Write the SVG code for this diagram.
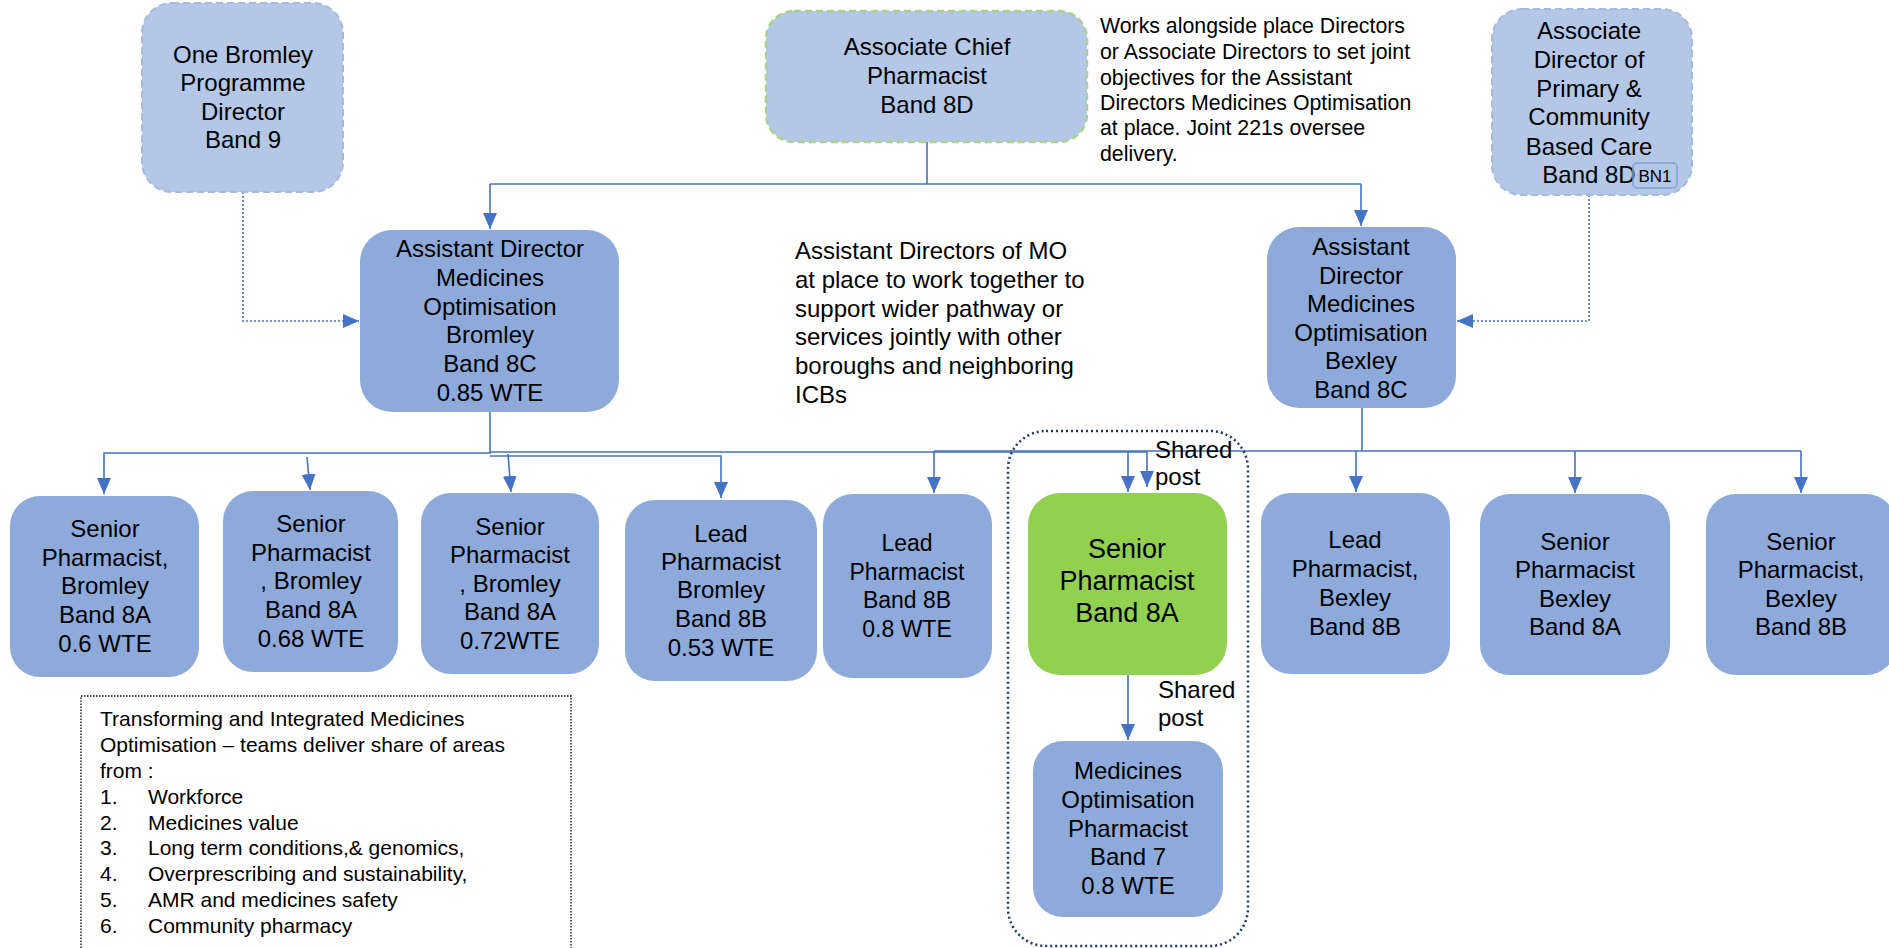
<svg xmlns="http://www.w3.org/2000/svg" width="1889" height="948" viewBox="0 0 1889 948">
<style>
.box{fill:#8eaadb}
.lt{fill:#b4c7e7}
.green{fill:#92d050}
.t{font-family:"Liberation Sans",Arial,sans-serif;font-size:24px;fill:#000;text-anchor:middle}
.s{font-family:"Liberation Sans",Arial,sans-serif;font-size:21px;fill:#000}
.w{font-size:21.3px}
.a{font-family:"Liberation Sans",Arial,sans-serif;font-size:24px;fill:#000}
.c{fill:none;stroke:#4472c4;stroke-width:1.6}
.dot{stroke-dasharray:2 2}
</style>
<defs>
<marker id="ah" markerUnits="userSpaceOnUse" markerWidth="17" markerHeight="15" refX="16" refY="7" orient="auto"><path d="M0,0 L16,7 L0,14 z" fill="#4472c4"/></marker>
</defs>
<rect width="1889" height="948" fill="#ffffff"/>

<g id="connectors">
<path class="c" d="M927,142 V184 M490,184 H1361" />
<path class="c" d="M490,184 V229" marker-end="url(#ah)"/>
<path class="c" d="M1361,184 V226" marker-end="url(#ah)"/>
<path class="c dot" d="M243,192 V321 H359" marker-end="url(#ah)"/>
<path class="c dot" d="M1589,195 V321 H1457" marker-end="url(#ah)"/>
<path class="c" d="M490,412 V453 H104 V494" marker-end="url(#ah)"/>
<path class="c" d="M307,457 L310,490" marker-end="url(#ah)"/>
<path class="c" d="M508,454 L511,492" marker-end="url(#ah)"/>
<path class="c" d="M490,456 H721 V498" marker-end="url(#ah)"/>
<path class="c" d="M490,452 H1147 V487" marker-end="url(#ah)"/>
<path class="c" d="M1362,408 V451 M934,451 H1801"/>
<path class="c" d="M934,451 V493" marker-end="url(#ah)"/>
<path class="c" d="M1128,451 V492" marker-end="url(#ah)"/>
<path class="c" d="M1356,451 V492" marker-end="url(#ah)"/>
<path class="c" d="M1575,451 V493" marker-end="url(#ah)"/>
<path class="c" d="M1801,451 V493" marker-end="url(#ah)"/>
<path class="c" d="M1128,675 V740" marker-end="url(#ah)"/>
</g>

<g id="shared-group">
<rect x="1008" y="431" width="240" height="515" rx="38" fill="none" stroke="#203864" stroke-width="2.5" stroke-dasharray="2 3"/>
</g>

<g id="one-bromley">
<rect x="142" y="3" width="201" height="189" rx="30" class="lt" stroke="#a3b9e2" stroke-width="2" stroke-dasharray="7 4"/>
<text class="t" x="243" y="63">One Bromley</text>
<text class="t" x="243" y="91">Programme</text>
<text class="t" x="243" y="120">Director</text>
<text class="t" x="243" y="148">Band 9</text>
</g>

<g id="associate-chief">
<rect x="766" y="11" width="321" height="131" rx="28" class="lt" stroke="#a9d18e" stroke-width="2.5" stroke-dasharray="7 4"/>
<text class="t" x="927" y="55">Associate Chief</text>
<text class="t" x="927" y="84">Pharmacist</text>
<text class="t" x="927" y="113">Band 8D</text>
</g>

<g id="note-works">
<text class="s w" x="1100" y="33">Works alongside place Directors</text>
<text class="s w" x="1100" y="59">or Associate Directors to set joint</text>
<text class="s w" x="1100" y="85">objectives for the Assistant</text>
<text class="s w" x="1100" y="110">Directors Medicines Optimisation</text>
<text class="s w" x="1100" y="135">at place. Joint 221s oversee</text>
<text class="s w" x="1100" y="161">delivery.</text>
</g>

<g id="associate-director">
<rect x="1492" y="9" width="200" height="186" rx="30" class="lt" stroke="#a3b9e2" stroke-width="2" stroke-dasharray="7 4"/>
<text class="t" x="1589" y="39">Associate</text>
<text class="t" x="1589" y="68">Director of</text>
<text class="t" x="1589" y="97">Primary &amp;</text>
<text class="t" x="1589" y="125">Community</text>
<text class="t" x="1589" y="155">Based Care</text>
<text class="t" x="1589" y="183">Band 8D</text>
<rect x="1633" y="163" width="44" height="25" rx="4" fill="none" stroke="#7f9fd6" stroke-width="1.5"/>
<text class="t" x="1655" y="182" style="font-size:17px">BN1</text>
</g>

<g id="ad-bromley">
<rect x="360" y="230" width="259" height="182" rx="32" class="box"/>
<text class="t" x="490" y="257">Assistant Director</text>
<text class="t" x="490" y="286">Medicines</text>
<text class="t" x="490" y="315">Optimisation</text>
<text class="t" x="490" y="343">Bromley</text>
<text class="t" x="490" y="372">Band 8C</text>
<text class="t" x="490" y="401">0.85 WTE</text>
</g>

<g id="note-mo">
<text class="a" x="795" y="259">Assistant Directors of MO</text>
<text class="a" x="795" y="288">at place to work together to</text>
<text class="a" x="795" y="317">support wider pathway or</text>
<text class="a" x="795" y="345">services jointly with other</text>
<text class="a" x="795" y="374">boroughs and neighboring</text>
<text class="a" x="795" y="403">ICBs</text>
</g>

<g id="ad-bexley">
<rect x="1267" y="227" width="189" height="181" rx="32" class="box"/>
<text class="t" x="1361" y="255">Assistant</text>
<text class="t" x="1361" y="284">Director</text>
<text class="t" x="1361" y="312">Medicines</text>
<text class="t" x="1361" y="341">Optimisation</text>
<text class="t" x="1361" y="369">Bexley</text>
<text class="t" x="1361" y="398">Band 8C</text>
</g>

<g id="sp-bromley-1">
<rect x="10" y="496" width="189" height="181" rx="30" class="box"/>
<text class="t" x="105" y="537">Senior</text>
<text class="t" x="105" y="566">Pharmacist,</text>
<text class="t" x="105" y="594">Bromley</text>
<text class="t" x="105" y="623">Band 8A</text>
<text class="t" x="105" y="652">0.6 WTE</text>
</g>

<g id="sp-bromley-2">
<rect x="223" y="491" width="175" height="181" rx="30" class="box"/>
<text class="t" x="311" y="532">Senior</text>
<text class="t" x="311" y="561">Pharmacist</text>
<text class="t" x="311" y="589">, Bromley</text>
<text class="t" x="311" y="618">Band 8A</text>
<text class="t" x="311" y="647">0.68 WTE</text>
</g>

<g id="sp-bromley-3">
<rect x="421" y="493" width="178" height="181" rx="30" class="box"/>
<text class="t" x="510" y="535">Senior</text>
<text class="t" x="510" y="563">Pharmacist</text>
<text class="t" x="510" y="592">, Bromley</text>
<text class="t" x="510" y="620">Band 8A</text>
<text class="t" x="510" y="649">0.72WTE</text>
</g>

<g id="lp-bromley">
<rect x="625" y="500" width="192" height="181" rx="30" class="box"/>
<text class="t" x="721" y="542">Lead</text>
<text class="t" x="721" y="570">Pharmacist</text>
<text class="t" x="721" y="598">Bromley</text>
<text class="t" x="721" y="627">Band 8B</text>
<text class="t" x="721" y="656">0.53 WTE</text>
</g>

<g id="lp-8b">
<rect x="823" y="494" width="169" height="184" rx="30" class="box"/>
<text class="t" x="907" y="551" style="font-size:23px">Lead</text>
<text class="t" x="907" y="580" style="font-size:23px">Pharmacist</text>
<text class="t" x="907" y="608" style="font-size:23px">Band 8B</text>
<text class="t" x="907" y="637" style="font-size:23px">0.8 WTE</text>
</g>

<g id="sp-shared">
<rect x="1028" y="493" width="199" height="182" rx="32" class="green"/>
<text class="t" x="1127" y="558" style="font-size:27px">Senior</text>
<text class="t" x="1127" y="590" style="font-size:27px">Pharmacist</text>
<text class="t" x="1127" y="622" style="font-size:27px">Band 8A</text>
</g>

<g id="shared-label-1">
<text class="a" x="1155" y="458">Shared</text>
<text class="a" x="1155" y="485">post</text>
</g>

<g id="shared-label-2">
<text class="a" x="1158" y="698">Shared</text>
<text class="a" x="1158" y="726">post</text>
</g>

<g id="mo-pharmacist">
<rect x="1033" y="741" width="190" height="176" rx="30" class="box"/>
<text class="t" x="1128" y="779">Medicines</text>
<text class="t" x="1128" y="808">Optimisation</text>
<text class="t" x="1128" y="837">Pharmacist</text>
<text class="t" x="1128" y="865">Band 7</text>
<text class="t" x="1128" y="894">0.8 WTE</text>
</g>

<g id="lp-bexley">
<rect x="1261" y="493" width="189" height="181" rx="30" class="box"/>
<text class="t" x="1355" y="548">Lead</text>
<text class="t" x="1355" y="577">Pharmacist,</text>
<text class="t" x="1355" y="606">Bexley</text>
<text class="t" x="1355" y="635">Band 8B</text>
</g>

<g id="sp-bexley-8a">
<rect x="1480" y="494" width="190" height="181" rx="30" class="box"/>
<text class="t" x="1575" y="550">Senior</text>
<text class="t" x="1575" y="578">Pharmacist</text>
<text class="t" x="1575" y="607">Bexley</text>
<text class="t" x="1575" y="635">Band 8A</text>
</g>

<g id="sp-bexley-8b">
<rect x="1706" y="494" width="190" height="181" rx="30" class="box"/>
<text class="t" x="1801" y="550">Senior</text>
<text class="t" x="1801" y="578">Pharmacist,</text>
<text class="t" x="1801" y="607">Bexley</text>
<text class="t" x="1801" y="635">Band 8B</text>
</g>

<g id="note-areas">
<rect x="81" y="696" width="490" height="275" fill="none" stroke="#000" stroke-width="1.3" stroke-dasharray="1.5 1.5"/>
<text class="s" x="100" y="726">Transforming and Integrated Medicines</text>
<text class="s" x="100" y="752">Optimisation – teams deliver share of areas</text>
<text class="s" x="100" y="778">from :</text>
<text class="s" x="100" y="804">1.</text><text class="s" x="148" y="804">Workforce</text>
<text class="s" x="100" y="830">2.</text><text class="s" x="148" y="830">Medicines value</text>
<text class="s" x="100" y="855">3.</text><text class="s" x="148" y="855">Long term conditions,&amp; genomics,</text>
<text class="s" x="100" y="881">4.</text><text class="s" x="148" y="881">Overprescribing and sustainability,</text>
<text class="s" x="100" y="907">5.</text><text class="s" x="148" y="907">AMR and medicines safety</text>
<text class="s" x="100" y="933">6.</text><text class="s" x="148" y="933">Community pharmacy</text>
</g>
</svg>
